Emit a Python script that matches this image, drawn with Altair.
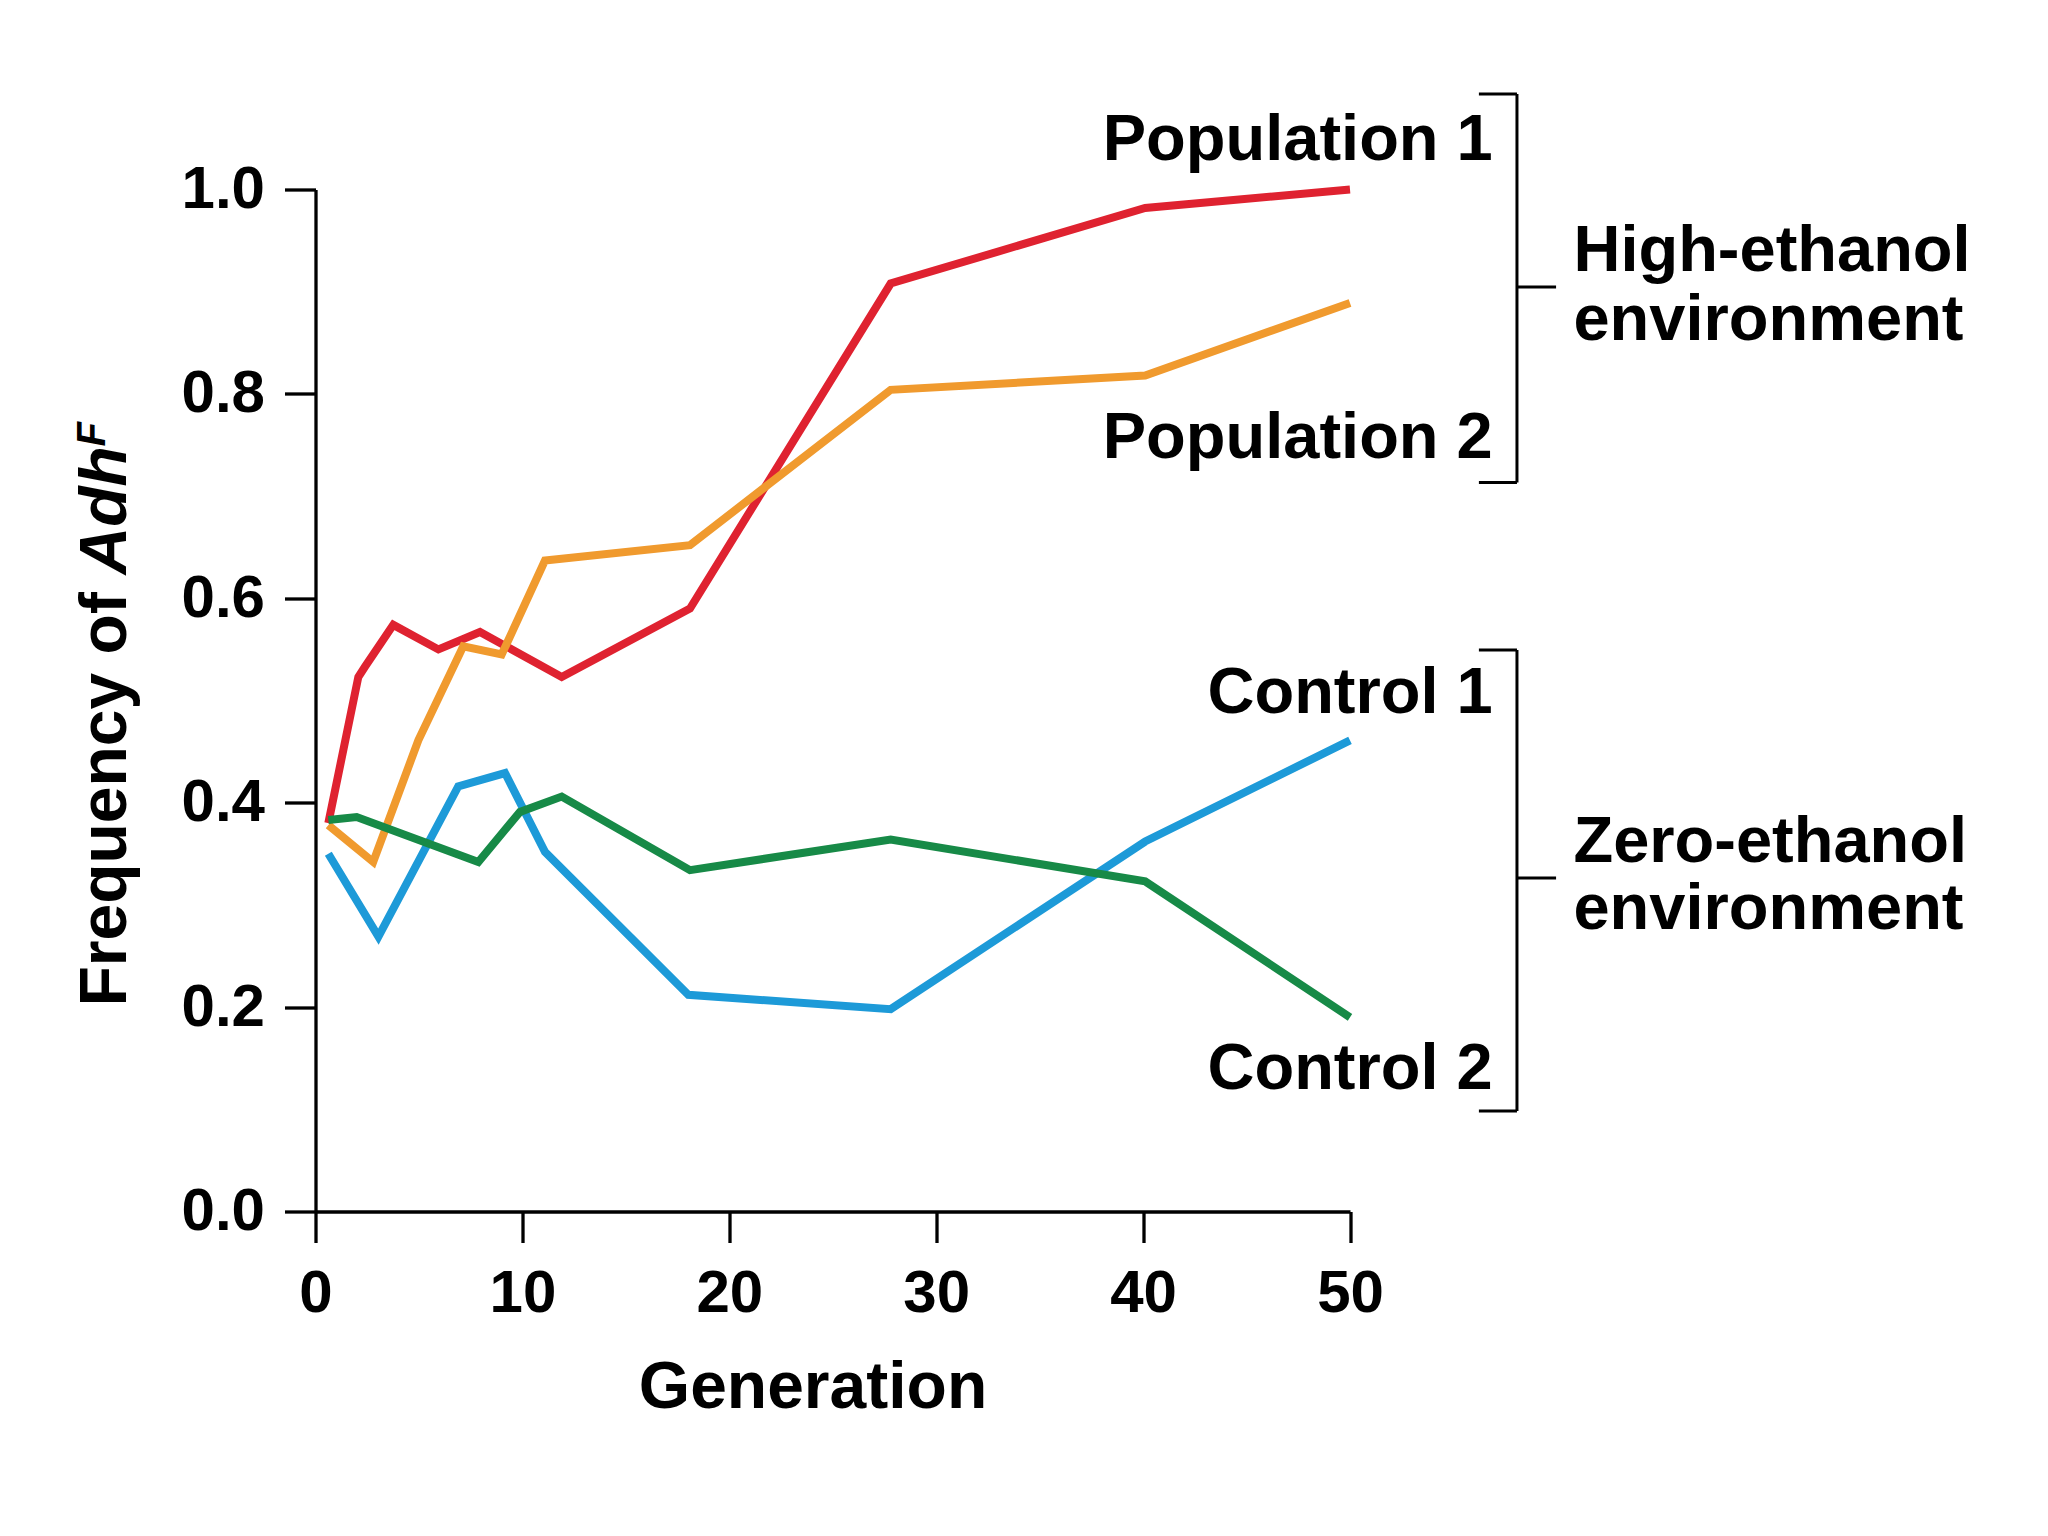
import altair as alt
import pandas as pd

# ---- data ----
series_names = ["Population 1", "Population 2", "Control 1", "Control 2"]
series_colors = ["#DF2230", "#F09A2E", "#1D9AD8", "#178A47"]

pop1_gen = [0.62, 2.07, 2.39, 3.76, 5.94, 7.95, 11.9, 18.1, 27.8, 40.1, 50.0]
pop1_freq = [0.380, 0.523, 0.533, 0.574, 0.550, 0.567, 0.523, 0.590, 0.908, 0.982, 1.000]

pop2_gen = [0.62, 2.79, 4.97, 7.14, 9.0, 11.09, 18.1, 27.8, 40.1, 50.0]
pop2_freq = [0.378, 0.342, 0.461, 0.553, 0.545, 0.637, 0.652, 0.804, 0.818, 0.889]

ctl1_gen = [0.62, 3.04, 6.9, 9.16, 11.09, 18.02, 27.8, 40.1, 50.0]
ctl1_freq = [0.350, 0.269, 0.416, 0.429, 0.352, 0.212, 0.198, 0.362, 0.461]

ctl2_gen = [0.62, 1.99, 7.87, 9.88, 11.9, 18.1, 27.8, 40.1, 50.0]
ctl2_freq = [0.383, 0.386, 0.342, 0.391, 0.406, 0.334, 0.364, 0.323, 0.190]

x_ticks = [0, 10, 20, 30, 40, 50]
y_ticks = [0.0, 0.2, 0.4, 0.6, 0.8, 1.0]

# series labels (right-aligned, in data units)
series_label_text = ["Population 1", "Population 2", "Control 1", "Control 2"]
series_label_x = [56.9, 56.9, 56.9, 56.9]
series_label_y = [1.029, 0.737, 0.488, 0.120]

# group labels (left-aligned, in data units)
group_label_text = ["High-ethanol", "environment", "Zero-ethanol", "environment"]
group_label_x = [60.8, 60.8, 60.8, 60.8]
group_label_y = [0.920, 0.853, 0.342, 0.276]

# bracket segments (data units)
br_x = [58.07, 56.23, 56.23, 58.07, 58.07, 56.23, 56.23, 58.07]
br_x2 = [58.07, 58.07, 58.07, 59.96, 58.07, 58.07, 58.07, 59.96]
br_y = [1.0935, 1.0935, 0.7133, 0.9046, 0.5494, 0.5494, 0.0983, 0.3263]
br_y2 = [0.7133, 1.0935, 0.7133, 0.9046, 0.0983, 0.5494, 0.0983, 0.3263]

FONT = "Liberation Sans"

rows = []
for name, gens, vals in [
    (series_names[0], pop1_gen, pop1_freq),
    (series_names[1], pop2_gen, pop2_freq),
    (series_names[2], ctl1_gen, ctl1_freq),
    (series_names[3], ctl2_gen, ctl2_freq),
]:
    for i, (g, v) in enumerate(zip(gens, vals)):
        rows.append({"series": name, "gen": g, "freq": v, "order": i})
df = pd.DataFrame(rows)

xscale = alt.Scale(domain=[0, 50], nice=False, zero=False)
yscale = alt.Scale(domain=[0, 1], nice=False, zero=False)

lines = alt.Chart(df).mark_line(strokeWidth=8, strokeJoin="miter").encode(
    x=alt.X(
        "gen:Q",
        scale=xscale,
        axis=alt.Axis(
            values=x_ticks,
            format="d",
            title="Generation",
            titleFont=FONT,
            titleFontSize=66,
            titleFontWeight="bold",
            titleColor="black",
            titleX=497,
            titleY=196,
            titleAlign="center",
            titleBaseline="alphabetic",
            labelFont=FONT,
            labelFontSize=60,
            labelFontWeight="bold",
            labelColor="black",
            labelPadding=22,
            labelFlush=False,
            tickSize=31,
            tickWidth=3.3,
            tickColor="black",
            domainColor="black",
            domainWidth=3.3,
            grid=False,
        ),
    ),
    y=alt.Y(
        "freq:Q",
        scale=yscale,
        axis=alt.Axis(
            values=y_ticks,
            format=".1f",
            title=None,
            labelFont=FONT,
            labelFontSize=60,
            labelFontWeight="bold",
            labelColor="black",
            labelPadding=20,
            labelFlush=False,
            tickSize=31,
            tickWidth=3.3,
            tickColor="black",
            domainColor="black",
            domainWidth=3.3,
            grid=False,
        ),
    ),
    color=alt.Color(
        "series:N",
        scale=alt.Scale(domain=series_names, range=series_colors),
        legend=None,
    ),
    detail="series:N",
    order="order:Q",
)

lab_df = pd.DataFrame({"t": series_label_text, "x": series_label_x, "y": series_label_y})
series_labels = alt.Chart(lab_df).mark_text(
    align="right", baseline="alphabetic", font=FONT, fontSize=65, fontWeight="bold", color="black"
).encode(x=alt.X("x:Q", scale=xscale), y=alt.Y("y:Q", scale=yscale), text="t:N")

grp_df = pd.DataFrame({"t": group_label_text, "x": group_label_x, "y": group_label_y})
group_labels = alt.Chart(grp_df).mark_text(
    align="left", baseline="alphabetic", font=FONT, fontSize=65, fontWeight="bold", color="black"
).encode(x=alt.X("x:Q", scale=xscale), y=alt.Y("y:Q", scale=yscale), text="t:N")

br_df = pd.DataFrame({"x": br_x, "x2": br_x2, "y": br_y, "y2": br_y2})
brackets = alt.Chart(br_df).mark_rule(color="black", strokeWidth=3).encode(
    x=alt.X("x:Q", scale=xscale), x2="x2:Q", y=alt.Y("y:Q", scale=yscale), y2="y2:Q"
)

# y-axis title built from pieces: "Frequency of " + italic "Adh" + superscript italic "F"
title_df = pd.DataFrame({"t": ["Frequency of "]})
t1 = alt.Chart(title_df).mark_text(
    align="left", baseline="alphabetic", angle=270, font=FONT, fontSize=66,
    fontWeight="bold", color="black"
).encode(x=alt.value(-190), y=alt.value(817), text="t:N")

t2 = alt.Chart(pd.DataFrame({"t": ["Adh"]})).mark_text(
    align="left", baseline="alphabetic", angle=270, font=FONT, fontSize=66,
    fontWeight="bold", fontStyle="italic", color="black"
).encode(x=alt.value(-190), y=alt.value(385), text="t:N")

t3 = alt.Chart(pd.DataFrame({"t": ["F"]})).mark_text(
    align="left", baseline="alphabetic", angle=270, font=FONT, fontSize=40,
    fontWeight="bold", fontStyle="italic", color="black"
).encode(x=alt.value(-211), y=alt.value(257), text="t:N")

chart = alt.layer(lines, brackets, series_labels, group_labels, t1, t2, t3).properties(
    width=1034.5,
    height=1022,
    autosize=alt.AutoSizeParams(type="none"),
    padding={"left": 307.5, "top": 181.5, "right": 670, "bottom": 300},
    background="white",
).configure_view(stroke=None)

chart.save("out.html", embed_options={"renderer": "svg", "actions": False})
